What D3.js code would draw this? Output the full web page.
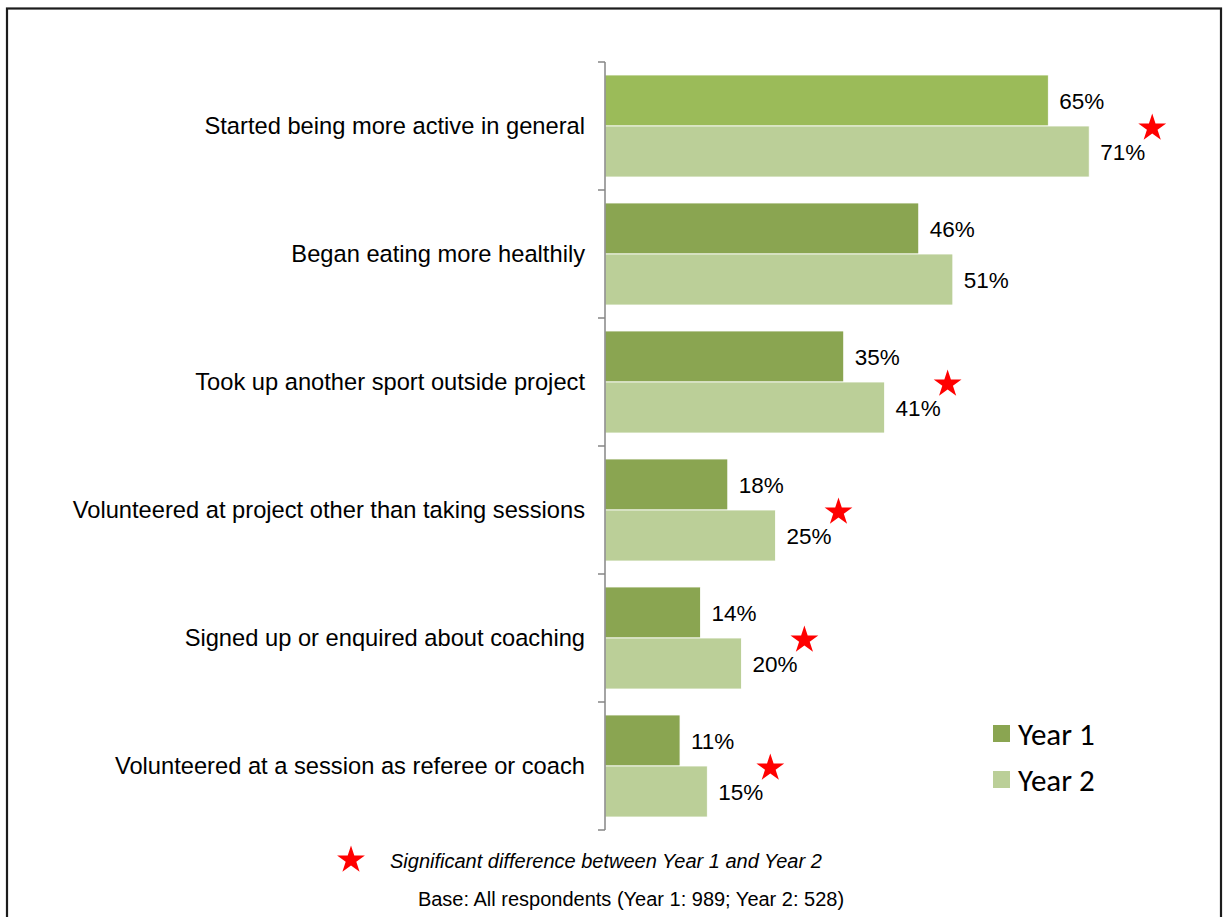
<!DOCTYPE html>
<html>
<head>
<meta charset="utf-8">
<script src="https://cdn.jsdelivr.net/npm/d3@7"></script>
<style>
  html, body { margin: 0; padding: 0; background: #fff; }
  svg { display: block; }
</style>
</head>
<body>
<div id="chart"></div>
<script>
// Outcomes reported by participants, Year 1 vs Year 2 (percent of respondents)
const categories = [
  "Started being more active in general",
  "Began eating more healthily",
  "Took up another sport outside project",
  "Volunteered at project other than taking sessions",
  "Signed up or enquired about coaching",
  "Volunteered at a session as referee or coach"
];
const seriesNames = ["Year 1", "Year 2"];
const year1 = [65, 46, 35, 18, 14, 11];
const year2 = [71, 51, 41, 25, 20, 15];
// true where the Year 1 / Year 2 difference is statistically significant
const significant = [true, false, true, true, true, true];
const footnote = "Significant difference between Year 1 and Year 2";
const baseNote = "Base: All respondents (Year 1: 989; Year 2: 528)";

const W = 1225, H = 917;
const colors = { "Year 1": "#8AA551", "Year 2": "#BBCF98" };
const firstRowYear1 = "#9BBB59";
const labelFont = "Liberation Sans, Arial, sans-serif";

const svg = d3.select("#chart").append("svg")
  .attr("width", W).attr("height", H);

// outer frame
svg.append("rect")
  .attr("x", 7).attr("y", 8.5)
  .attr("width", 1214).attr("height", 1000)
  .attr("fill", "none").attr("stroke", "#1c1c1c").attr("stroke-width", 2.2);

const x = d3.scaleLinear().domain([0, 100]).range([605, 1287]);
const y = d3.scaleBand().domain(categories).range([62, 830])
  .paddingInner(0.203).paddingOuter(0.1015);
const ySub = d3.scaleBand().domain(seriesNames).range([0, y.bandwidth()]);

const rows = categories.map((c, i) => ({
  cat: c, i,
  vals: [
    { s: "Year 1", v: year1[i] },
    { s: "Year 2", v: year2[i] }
  ],
  sig: significant[i]
}));

// bars
const g = svg.append("g");
const rowG = g.selectAll("g.row").data(rows).join("g")
  .attr("class", "row")
  .attr("transform", d => `translate(0,${y(d.cat)})`);

rowG.selectAll("rect").data(d => d.vals.map(v => ({ ...v, i: d.i }))).join("rect")
  .attr("x", x(0))
  .attr("y", d => ySub(d.s))
  .attr("width", d => x(d.v) - x(0))
  .attr("height", ySub.bandwidth())
  .attr("fill", d => (d.s === "Year 1" && d.i === 0) ? firstRowYear1 : colors[d.s])
  .attr("stroke", "#fff").attr("stroke-width", 0.8);

rowG.selectAll("text.val").data(d => d.vals).join("text")
  .attr("class", "val")
  .attr("x", d => x(d.v) + 11)
  .attr("y", d => ySub(d.s) + ySub.bandwidth() / 2 + 1)
  .attr("dominant-baseline", "central")
  .attr("font-family", labelFont)
  .attr("font-size", 22.5)
  .attr("fill", "#000")
  .text(d => d.v + "%");

// category axis: vertical line with ticks at band boundaries
const step = y.step();
const axisG = svg.append("g");
axisG.append("line")
  .attr("x1", x(0)).attr("x2", x(0))
  .attr("y1", y.range()[0]).attr("y2", y.range()[1])
  .attr("stroke", "#868686").attr("stroke-width", 1.5);
const bounds = d3.range(categories.length + 1).map(k => y.range()[0] + k * step);
axisG.selectAll("line.tick").data(bounds).join("line")
  .attr("class", "tick")
  .attr("x1", x(0) - 7).attr("x2", x(0))
  .attr("y1", d => d).attr("y2", d => d)
  .attr("stroke", "#868686").attr("stroke-width", 1.5);

axisG.selectAll("text.cat").data(categories).join("text")
  .attr("class", "cat")
  .attr("x", 585)
  .attr("y", d => y(d) + y.bandwidth() / 2)
  .attr("text-anchor", "end")
  .attr("dominant-baseline", "central")
  .attr("font-family", labelFont)
  .attr("font-size", 23.7)
  .attr("fill", "#000")
  .text(d => d);

// significance stars
const star = d3.symbol().type(d3.symbolStar).size(240);
svg.selectAll("path.sig").data(rows.filter(d => d.sig)).join("path")
  .attr("class", "sig")
  .attr("transform", d => `translate(${x(d3.max(d.vals, v => v.v)) + 63},${y(d.cat) + y.bandwidth() / 2 + 2})`)
  .attr("d", star)
  .attr("fill", "#FF0000");

// legend
const leg = svg.append("g").attr("transform", "translate(993,725)");
seriesNames.forEach((s, k) => {
  const lg = leg.append("g").attr("transform", `translate(0,${k * 46})`);
  lg.append("rect").attr("width", 17).attr("height", 17).attr("fill", colors[s]);
  lg.append("text")
    .attr("x", 25).attr("y", 9)
    .attr("dominant-baseline", "central")
    .attr("font-family", "Carlito, Calibri, Lato, sans-serif")
    .attr("font-size", 31)
    .attr("fill", "#000")
    .text(s);
});

// notes under the chart
svg.append("path")
  .attr("transform", "translate(351,860)")
  .attr("d", star)
  .attr("fill", "#FF0000");
svg.append("text")
  .attr("x", 390).attr("y", 861)
  .attr("dominant-baseline", "central")
  .attr("font-family", labelFont)
  .attr("font-style", "italic")
  .attr("font-size", 20)
  .attr("fill", "#000")
  .text(footnote);
svg.append("text")
  .attr("x", 631).attr("y", 899)
  .attr("text-anchor", "middle")
  .attr("dominant-baseline", "central")
  .attr("font-family", labelFont)
  .attr("font-size", 20)
  .attr("fill", "#000")
  .text(baseNote);
</script>
</body>
</html>
